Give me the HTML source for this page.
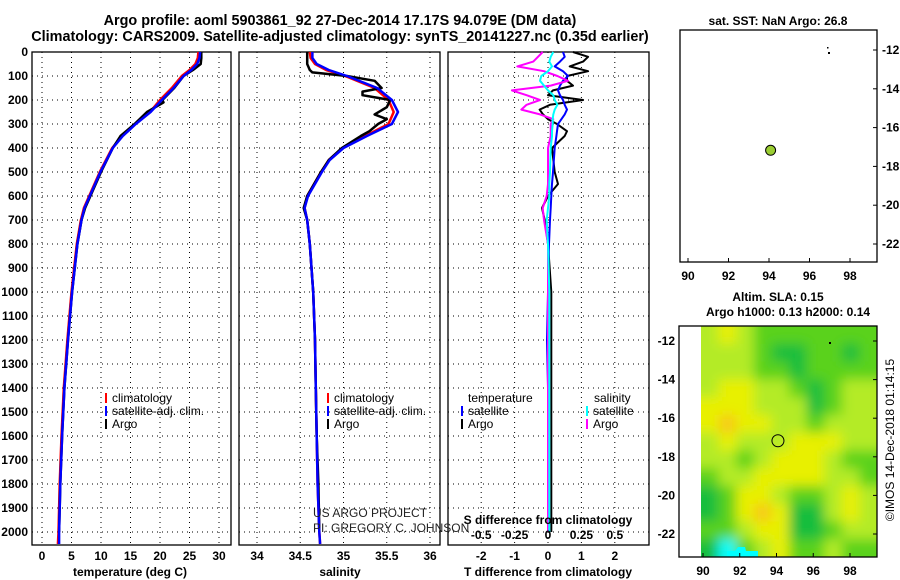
<!DOCTYPE html>
<html><head><meta charset="utf-8"><style>
body{margin:0;background:#fff;}
svg{display:block;font-family:"Liberation Sans",Arial,sans-serif;}
.b{font-weight:bold;font-size:12px;}
</style></head><body>
<svg id="s" width="900" height="580" viewBox="0 0 900 580">
<text x="340" y="25" text-anchor="middle" font-size="14.4" font-weight="bold">Argo profile: aoml 5903861_92 27-Dec-2014 17.17S 94.079E (DM data)</text>
<text x="340" y="41" text-anchor="middle" font-size="14.4" font-weight="bold">Climatology: CARS2009. Satellite-adjusted climatology: synTS_20141227.nc (0.35d earlier)</text>
<g id="g"></g>
</svg>
<script>
const NS='http://www.w3.org/2000/svg';
const depthsA=[0,25,50,75,100,150,200,250,300,350,400,500,600,650,700,800,1000,1200,1400,1600,1800,2000,2050];
const tempClim=[26.5,26.4,26,25,23.7,22,20,18.3,15.8,13.6,11.9,9.8,8,7.1,6.6,5.9,5.0,4.3,3.7,3.3,3.0,2.8,2.7];
const tempSat=[26.8,26.7,26.3,25.3,24,22.3,20.3,18.4,15.9,13.7,12,9.9,8.1,7.2,6.7,6.0,5.1,4.4,3.8,3.4,3.1,2.9,2.9];
const depthsArgoT=[0,25,50,75,100,150,200,210,250,300,350,400,500,600,650,700,800,1000,1200,1400,1600,1800,2000];
const tempArgo=[27,27,26.9,25.6,24,22.4,20.4,20.6,17.8,15.7,13.3,12,10,8.2,7.3,6.7,6.0,5.1,4.4,3.8,3.4,3.1,2.9];
const depthsS=[0,25,50,75,100,150,200,250,300,350,400,450,500,600,650,700,800,1000,1200,1400,1600,1800,2000,2050];
const salClim=[34.61,34.62,34.67,34.8,35.02,35.36,35.52,35.58,35.52,35.25,34.99,34.83,34.74,34.58,34.55,34.58,34.61,34.65,34.67,34.68,34.69,34.7,34.72,34.73];
const salSat=[34.64,34.64,34.69,34.83,35.04,35.39,35.56,35.63,35.56,35.27,35.0,34.84,34.75,34.59,34.55,34.58,34.61,34.65,34.67,34.68,34.69,34.7,34.72,34.73];
const depthsArgoS=[0,25,50,75,85,100,120,150,165,180,200,230,260,280,300,330,350,400,450,500,600,650,700,800,1000,1200,1400,1600,1800,2000];
const salArgo=[34.58,34.58,34.58,34.61,34.64,35.04,35.36,35.44,35.22,35.22,35.54,35.5,35.36,35.5,35.4,35.3,35.2,34.98,34.83,34.74,34.58,34.54,34.58,34.61,34.65,34.67,34.68,34.69,34.71,34.72];
const depthsD=[0,20,40,60,80,100,120,140,160,180,200,220,240,260,280,300,330,350,400,500,550,600,650,700,800,1000,1200,1400,1600,1800,2000];
const tDiffArgo=[0.75,1.2,1.05,0.65,1.2,0.57,0.57,0.75,0.15,0,1.05,0.06,-0.25,-0.15,0,0.27,0.57,0.5,0.12,0.2,0.3,0,-0.18,-0.1,0,0.1,0.1,0.1,0.1,0.1,0.1];
const tDiffSat=[0.45,0.5,0.36,0.2,0.45,0.6,0.45,0.36,0.3,0.36,0.45,0.5,0.57,0.5,0.4,0.3,0.27,0.25,0.2,0.15,0.12,0.1,0.08,0.06,0.03,0,-0.03,0,0,0,0];
const sDiffArgo=[-0.04,-0.075,-0.11,-0.23,-0.03,0.07,0.15,0.02,-0.27,-0.16,-0.06,-0.16,-0.2,-0.06,0.04,0.02,0.02,0.02,0,0,0,-0.01,-0.04,-0.03,0,0,0,0,0,0,0];
const sDiffSat=[0.04,0.02,0.01,0.03,0,-0.05,-0.06,-0.03,0,0.04,0.05,0.07,0.05,0.04,0.035,0.035,0.03,0.03,0.02,0.015,0.01,0.01,0,-0.01,0,0.01,0.01,0.01,0.01,0.01,0.01];
const depthTicks=[0,100,200,300,400,500,600,700,800,900,1000,1100,1200,1300,1400,1500,1600,1700,1800,1900,2000];
const tempTicks=[0,5,10,15,20,25,30];
const salTicks=[34,34.5,35,35.5,36];
const salTickLabels=['34','34.5','35','35.5','36'];
const tdTicks=[-2,-1,0,1,2];
const sdTicks=[-0.5,-0.25,0,0.25,0.5];
const latTicks=[-12,-14,-16,-18,-20,-22];
const lonTicks=[90,92,94,96,98];
const slaGrid=[
[2,3,2,1,1,1,1,1,1,1],
[2,2,2,1,0,0,1,1,0,1],
[2,2,2,1,1,0,1,1,1,1],
[2,3,3,2,2,1,0,1,2,2],
[3,3,3,2,2,2,0,1,2,2],
[3,4,3,3,2,2,1,2,2,2],
[2,3,2,2,2,3,3,3,2,2],
[2,2,1,2,3,3,3,2,1,1],
[1,2,2,3,3,3,3,2,2,1],
[0,1,3,3,2,1,1,2,3,2],
[0,1,3,4,3,0,0,2,3,2],
[1,1,2,3,3,0,0,1,2,2],
[0,-1,1,2,3,1,1,2,1,1]];
const argoLon=94.079, argoLat=-17.17;

const g=document.getElementById('g');
function el(t,a,p){const e=document.createElementNS(NS,t);for(const k in a)e.setAttribute(k,a[k]);(p||g).appendChild(e);return e;}
function txt(x,y,s,a,p){const e=el('text',Object.assign({x:x,y:y},a||{}),p);e.textContent=s;return e;}
const yD=d=>52+d*0.24;
const xT=v=>42+v*5.9;
const xS=v=>257+(v-34)*86.5;
const xTD=v=>548+v*33.4;
const xSD=v=>548+v*133.6;
const yTop=52,yBot=545;
function frame(l,r,xt,fx,name){
  const p=el('g',{});
  
  
  depthTicks.forEach(d=>{if(d>0)el('line',{x1:l,x2:r,y1:yD(d),y2:yD(d),stroke:'#000','stroke-dasharray':'1,4','stroke-width':1},p);});
  xt.forEach(v=>el('line',{x1:fx(v),x2:fx(v),y1:yTop,y2:yBot,stroke:'#000','stroke-dasharray':'1,4','stroke-width':1},p));
  el('rect',{x:l,y:yTop,width:r-l,height:yBot-yTop,fill:'none',stroke:'#000','stroke-width':1.3},p);
  return p;
}
function line(xs,ds,fx,col,name,w){
  const pts=xs.map((v,i)=>fx(v).toFixed(1)+','+yD(ds[i]).toFixed(1)).join(' ');
  const e=el('polyline',{points:pts,fill:'none',stroke:col,'stroke-width':w||2.5,'stroke-linejoin':'round'});
  
  
}
// panel 1
frame(32,231,tempTicks,xT,'temperature-panel');
depthTicks.forEach(d=>{const t=txt(28,yD(d)+4,String(d),{'text-anchor':'end',class:'b'});});
tempTicks.forEach(v=>txt(xT(v),560,String(v),{'text-anchor':'middle',class:'b'}));
txt(130,576,'temperature (deg C)',{'text-anchor':'middle',class:'b'});
line(tempClim,depthsA,xT,'#f00','temp-climatology-line');
line(tempArgo,depthsArgoT,xT,'#000','temp-argo-line');
line(tempSat,depthsA,xT,'#00f','temp-satellite-line');
// panel 2
frame(239,440,salTicks,xS,'salinity-panel');
salTicks.forEach((v,i)=>txt(xS(v),560,salTickLabels[i],{'text-anchor':'middle',class:'b'}));
txt(340,576,'salinity',{'text-anchor':'middle',class:'b'});
line(salClim,depthsS,xS,'#f00','sal-climatology-line');
line(salArgo,depthsArgoS,xS,'#000','sal-argo-line');
line(salSat,depthsS,xS,'#00f','sal-satellite-line');
// panel 3
frame(448,649,tdTicks,xTD,'difference-panel');
tdTicks.forEach(v=>txt(xTD(v),560,String(v),{'text-anchor':'middle',class:'b'}));
txt(548,576,'T difference from climatology',{'text-anchor':'middle',class:'b'});
line(tDiffArgo,depthsD,xTD,'#000','tdiff-argo-line',2);
line(tDiffSat,depthsD,xTD,'#00f','tdiff-satellite-line',2);
line(sDiffArgo,depthsD,xSD,'#f0f','sdiff-argo-line',2);
line(sDiffSat,depthsD,xSD,'#0ff','sdiff-satellite-line',2);
txt(548,524,'S difference from climatology',{'text-anchor':'middle',class:'b'});
sdTicks.forEach(v=>txt(xSD(v),539,String(v),{'text-anchor':'middle',class:'b'}));
// legends
function leg(x,y,col,s,name){const e=el('g',{});
  el('line',{x1:x,x2:x,y1:y-9,y2:y+1,stroke:col,'stroke-width':2},e);txt(x+6,y,s,{style:'font-size:12px'},e);}
leg(106,402,'#f00','climatology','legend-climatology');
leg(106,415,'#00f','satellite-adj. clim.','legend-satellite');
leg(106,428,'#000','Argo','legend-argo');
leg(328,402,'#f00','climatology','legend-climatology-2');
leg(328,415,'#00f','satellite-adj. clim.','legend-satellite-2');
leg(328,428,'#000','Argo','legend-argo-2');
txt(468,402,'temperature',{style:'font-size:12px'});
txt(594,402,'salinity',{style:'font-size:12px'});
leg(462,415,'#00f','satellite','legend-t-satellite');
leg(462,428,'#000','Argo','legend-t-argo');
leg(587,415,'#0ff','satellite','legend-s-satellite');
leg(587,428,'#f0f','Argo','legend-s-argo');
txt(313,517,'US ARGO PROJECT',{style:'font-size:12px',fill:'#222'});
txt(313,532,'PI: GREGORY C. JOHNSON',{style:'font-size:12px',fill:'#222'});
// top map
const mx1=lo=>688+(lo-90)*20.25, my1=la=>50+(-12-la)*19.4;
const m1=el('g',{});
el('rect',{x:680,y:30,width:197,height:232,fill:'#fff',stroke:'#000','stroke-width':1.3},m1);
txt(778,25,'sat. SST: NaN Argo: 26.8',{'text-anchor':'middle',class:'b'},m1);
latTicks.forEach(v=>{el('line',{x1:873,x2:877,y1:my1(v),y2:my1(v),stroke:'#000'},m1);txt(882,my1(v)+4,String(v),{class:'b'},m1);});
lonTicks.forEach(v=>{el('line',{x1:mx1(v),x2:mx1(v),y1:258,y2:262,stroke:'#000'},m1);txt(mx1(v),280,String(v),{'text-anchor':'middle',class:'b'},m1);});
el('circle',{cx:mx1(argoLon),cy:my1(argoLat),r:5,fill:'#9acd32',stroke:'#000'},m1);
el('rect',{x:827,y:47,width:1.5,height:1.5,fill:'#000'},m1);el('rect',{x:828,y:52,width:2,height:2,fill:'#000'},m1);
// bottom map
const mx2=lo=>703+(lo-90)*18.375, my2=la=>341+(-12-la)*19.3;
const m2=el('g',{});
txt(778,301,'Altim. SLA: 0.15',{'text-anchor':'middle',class:'b'},m2);
txt(788,316,'Argo h1000: 0.13 h2000: 0.14',{'text-anchor':'middle',class:'b'},m2);
const defs=el('defs',{},m2);
const cp=el('clipPath',{id:'cp'},defs);el('rect',{x:701,y:326,width:176,height:231},cp);
const f=el('filter',{id:'bl',filterUnits:'userSpaceOnUse',x:650,y:290,width:260,height:300},defs);el('feGaussianBlur',{stdDeviation:6},f);
const cols={'-1':'#00ffff','0':'#14be3c','1':'#5ad21e','2':'#b4eb28','3':'#e8f000','4':'#f8c818'};
const hm=el('g',{'clip-path':'url(#cp)'},m2);
const hb=el('g',{filter:'url(#bl)'},hm);
const cw=176/10, ch=231/13;
slaGrid.forEach((row,r)=>row.forEach((v,c)=>{
  const e=el('rect',{x:(701+c*cw-(c==0?20:0)).toFixed(1),y:(326+r*ch-(r==0?20:0)).toFixed(1),width:(cw+1+(c==0||c==9?20:0)).toFixed(1),height:(ch+1+(r==0||r==12?20:0)).toFixed(1),fill:cols[v]},hb);
  
  
}));
el('polygon',{points:'727,557 727,551 735,551 738,547 745,547 746,551 758,551 758,557',fill:'#00ffff'},hm);
el('rect',{x:679,y:326,width:198,height:231,fill:'none',stroke:'#000','stroke-width':1.3},m2);
latTicks.forEach(v=>{el('line',{x1:873,x2:877,y1:my2(v),y2:my2(v),stroke:'#000'},m2);txt(675,my2(v)+4,String(v),{'text-anchor':'end',class:'b'},m2);});
lonTicks.forEach(v=>{el('line',{x1:mx2(v),x2:mx2(v),y1:553,y2:557,stroke:'#000'},m2);txt(mx2(v),575,String(v),{'text-anchor':'middle',class:'b'},m2);});
el('circle',{cx:mx2(argoLon),cy:my2(argoLat),r:6,fill:'none',stroke:'#000'},m2);
el('rect',{x:829,y:342,width:2,height:2,fill:'#000'},m2);
txt(0,0,'©IMOS 14-Dec-2018 01:14:15',{transform:'translate(894,440) rotate(-90)','text-anchor':'middle',style:'font-size:12px'});
</script>
</body></html>
